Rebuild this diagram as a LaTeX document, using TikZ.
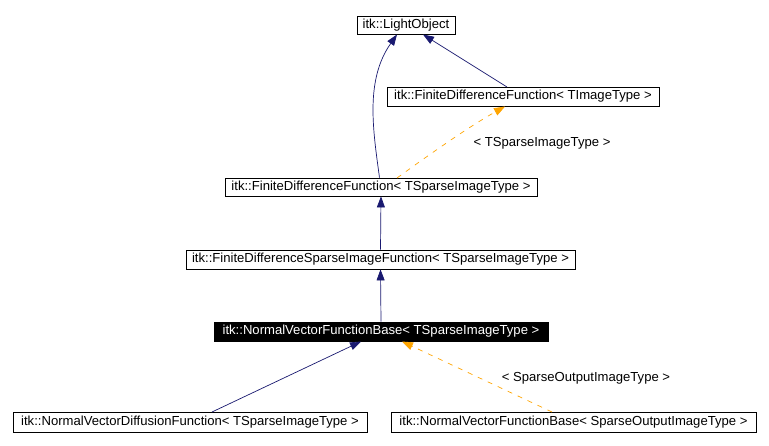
\documentclass[tikz,border=0pt]{standalone}
\usepackage{fontspec}
\setmainfont{Liberation Sans}
\usetikzlibrary{arrows.meta}
\definecolor{edgeblue}{HTML}{191970}
\definecolor{edgeorange}{HTML}{FFA500}
\begin{document}
\begin{tikzpicture}[x=1pt,y=-1pt,
  cls/.style={draw=black,line width=0.8pt,inner sep=0pt,fill=white,font=\fontsize{13.1}{15}\selectfont},
  curcls/.style={cls,fill=black,text=white},
  inherit/.style={draw=edgeblue,line width=0.7pt,-{Triangle[length=11pt,width=8pt]}},
  tmpl/.style={draw=edgeorange,line width=0.7pt,dash pattern=on 5pt off 6pt,-{Triangle[length=11pt,width=8pt]}},
  lbl/.style={font=\fontsize{13.1}{15}\selectfont,inner sep=0pt}]
\useasboundingbox (0,0) rectangle (769,446);
\fill[white] (0,0) rectangle (769,446);
\node[cls,minimum width=98pt,minimum height=18pt] (lo) at (406,25) {itk::LightObject};
\node[cls,minimum width=272pt,minimum height=19pt] (fdfi) at (523,96.5) {itk::FiniteDifferenceFunction< TImageType >};
\node[cls,minimum width=312pt,minimum height=18pt] (fdfs) at (381,187) {itk::FiniteDifferenceFunction< TSparseImageType >};
\node[cls,minimum width=389pt,minimum height=19pt] (fdsif) at (380.5,259.5) {itk::FiniteDifferenceSparseImageFunction< TSparseImageType >};
\node[curcls,minimum width=334pt,minimum height=19pt] (nvfb) at (381,331.5) {itk::NormalVectorFunctionBase< TSparseImageType >};
\node[cls,minimum width=354pt,minimum height=20pt] (nvdf) at (190,422) {itk::NormalVectorDiffusionFunction< TSparseImageType >};
\node[cls,minimum width=365pt,minimum height=20pt] (nvfbs) at (573.5,422) {itk::NormalVectorFunctionBase< SparseOutputImageType >};
\coordinate (a1) at ([xshift=-1.5pt]fdfs.north);
\coordinate (a1e) at (397,34.5);
\draw[inherit] (a1) .. controls (373,130) and (365,80) .. (a1e);
\coordinate (a2) at (507,87);
\coordinate (a2e) at (423,34.5);
\draw[inherit] (a2) -- (a2e);
\coordinate (o1) at (397,178);
\coordinate (o1e) at (505,106.5);
\draw[tmpl] (o1) .. controls (430,154) and (470,126) .. (o1e);
\node[lbl] (l1) at (542,143) {< TSparseImageType >};
\draw[inherit] (fdsif.north) -- (fdfs.south);
\draw[inherit] (nvfb.north) -- (fdsif.south);
\coordinate (b1) at (212,412);
\coordinate (b1e) at (361,341.5);
\draw[inherit] (b1) -- (b1e);
\coordinate (b2) at (552,412);
\coordinate (b2e) at (402,341.5);
\draw[tmpl] (b2) -- (b2e);
\node[lbl] (l2) at (586,378) {< SparseOutputImageType >};
\end{tikzpicture}
\end{document}
